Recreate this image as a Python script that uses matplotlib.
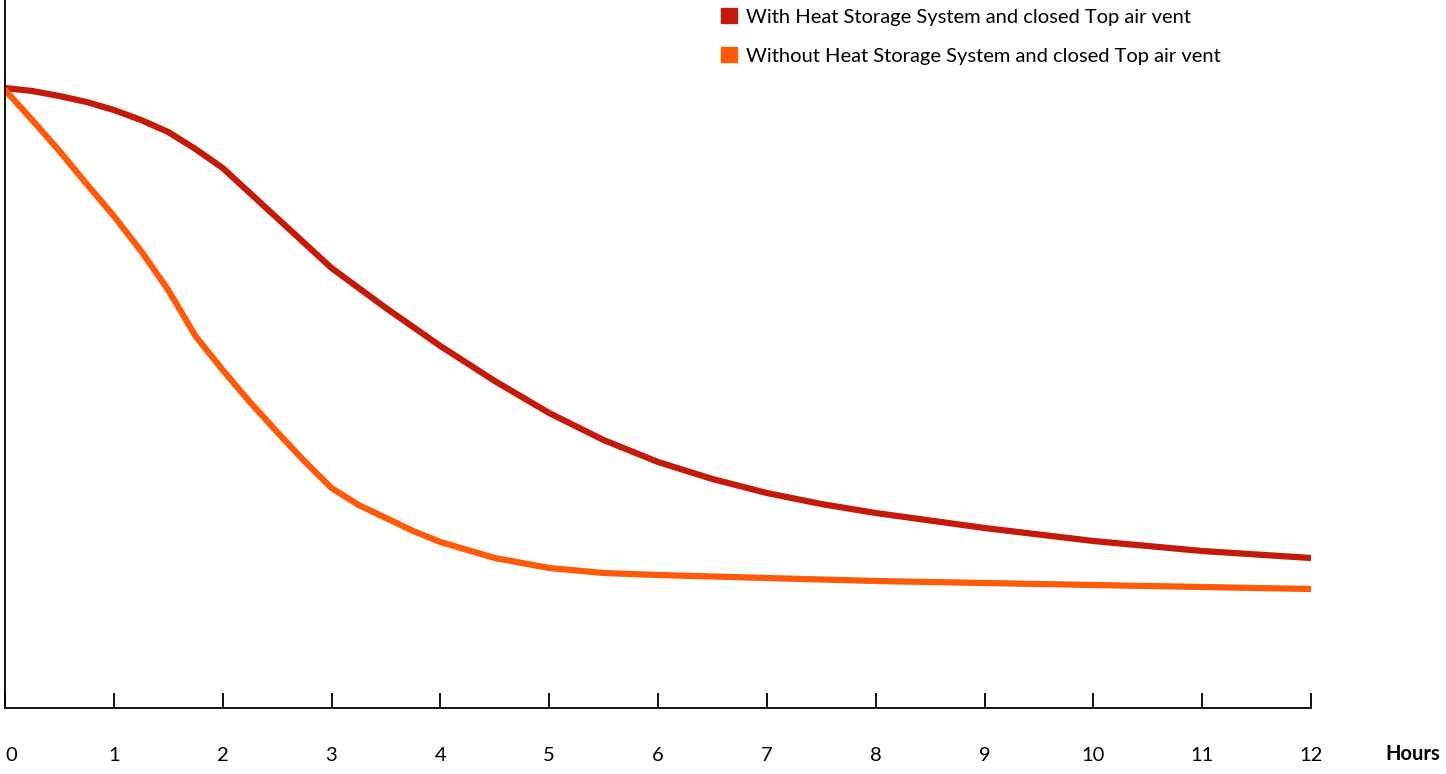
import numpy as np
import matplotlib.pyplot as plt
from matplotlib.patches import Patch

# hours and relative temperature levels (arbitrary units)
hours_red = [0, 0.25, 0.5, 0.75, 1, 1.25, 1.5, 1.75, 2, 2.25, 2.5, 2.75, 3, 3.5, 4, 4.5, 5,
             5.5, 6, 6.5, 7, 7.5, 8, 9, 10, 11, 12]
with_storage = [620, 617, 612, 606, 598, 588, 576, 559, 540, 515, 490, 465, 440, 400, 362, 327, 295,
                268, 246, 229, 215, 204, 195, 180, 167, 157, 150]

hours_orange = [0, 0.25, 0.5, 0.75, 1, 1.25, 1.5, 1.75, 2, 2.25, 2.5, 2.75, 3, 3.25, 3.5, 3.75, 4,
                4.5, 5, 5.5, 6, 7, 8, 9, 10, 11, 12]
without_storage = [618, 588, 557, 524, 492, 457, 418, 372, 338, 306, 276, 247, 220, 203, 190, 177, 166,
                   150, 140, 135, 133, 130, 127, 125, 123, 121, 119]

tick_hours = list(range(13))
red = '#c41a0c'
orange = '#ff5a0a'

plt.rcParams['font.family'] = 'Lato'
fig = plt.figure(figsize=(14.46, 7.74), dpi=100)
ax = fig.add_axes([5/1446, 66/774, 1306/1446, 708/774])

ax.plot(hours_red, with_storage, color=red, lw=4.5, solid_capstyle='round', solid_joinstyle='round')
ax.plot(hours_orange, without_storage, color=orange, lw=4.5, solid_capstyle='round', solid_joinstyle='round')

ax.set_xlim(0, 12)
ax.set_ylim(0, 708)
ax.spines['top'].set_visible(False)
ax.spines['right'].set_visible(False)
for s in ('left', 'bottom'):
    ax.spines[s].set_linewidth(1.3)
ax.set_yticks([])
ax.set_xticks(tick_hours)
ax.set_xticklabels([str(h) for h in tick_hours], fontsize=14.5)
ax.tick_params(axis='x', direction='in', length=11, width=1.3, pad=28)
ax.get_xticklabels()[0].set_horizontalalignment('left')
fig.text(1413/1446, 1 - 754/774, 'Hours', fontsize=14.5, fontweight='bold', ha='center', va='center')

handles = [Patch(color=red, label='With Heat Storage System and closed Top air vent'),
           Patch(color=orange, label='Without Heat Storage System and closed Top air vent')]
fig.legend(handles=handles, loc='upper left', bbox_to_anchor=(703/1446, 1.013), frameon=False,
           fontsize=14.5, handlelength=0.8, handleheight=0.8, handletextpad=0.45, labelspacing=1.05)

fig.savefig('out.png', dpi=100)
